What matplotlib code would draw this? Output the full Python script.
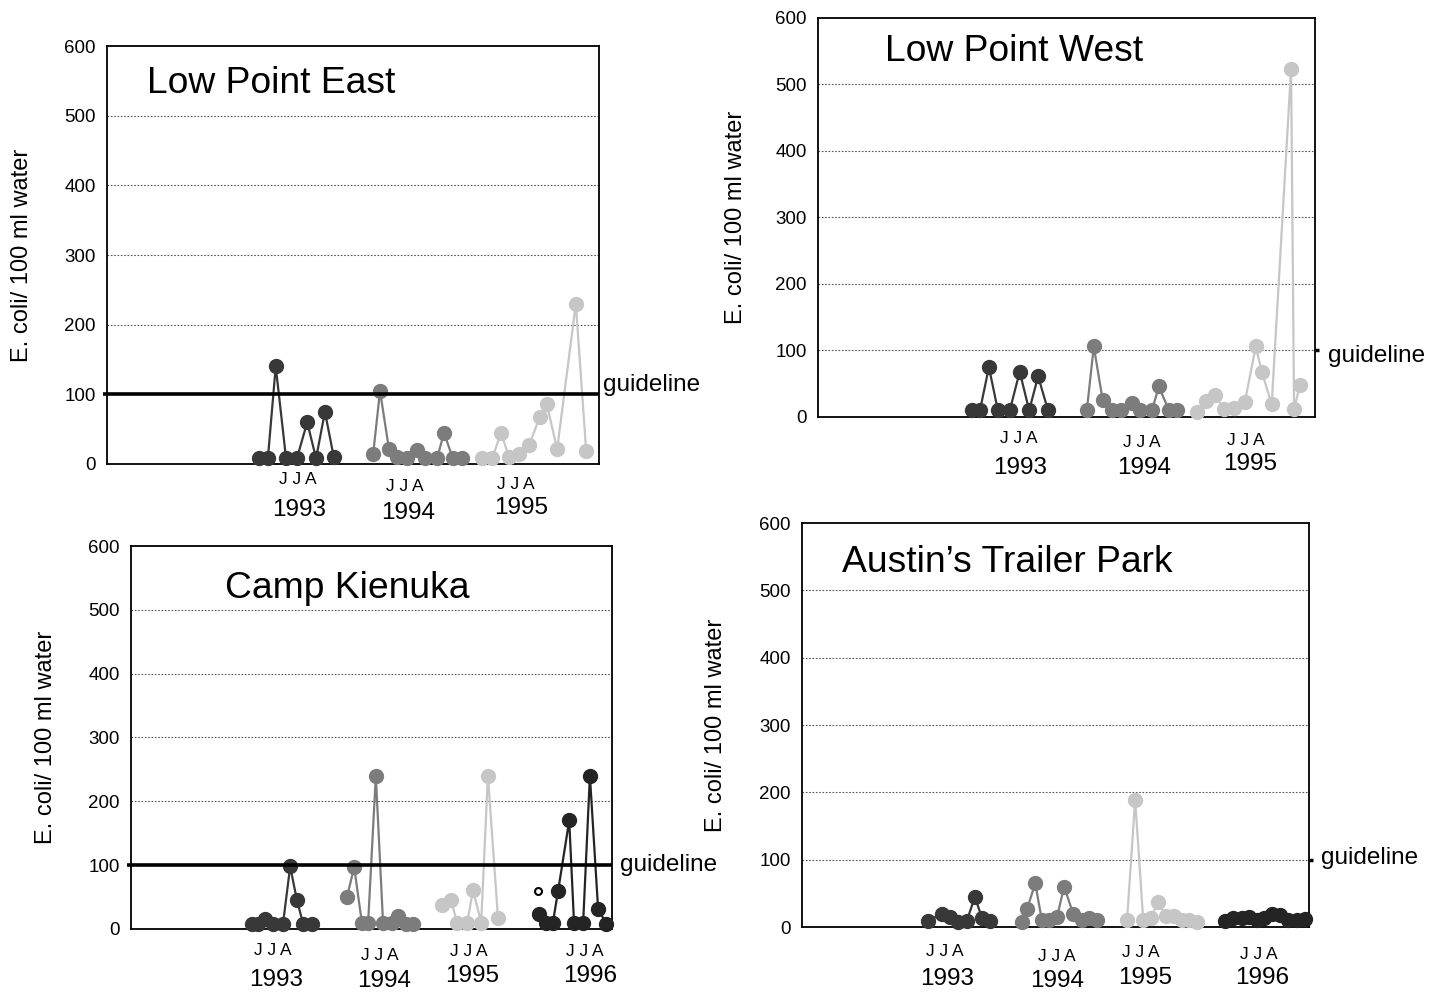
import matplotlib.pyplot as plt
from matplotlib.transforms import blended_transform_factory

plt.rcParams['font.family'] = ['Liberation Sans', 'DejaVu Sans']

# sampling positions (relative time across each panel, 0-100) and E. coli counts
lpe_x93 = [30.9, 32.7, 34.3, 36.4, 38.6, 40.7, 42.5, 44.3, 46.1]
lpe_y93 = [8, 8, 140, 8, 8, 60, 8, 75, 10]
lpe_x94 = [54.1, 55.5, 57.3, 58.9, 61.0, 63.0, 64.6, 67.1, 68.5, 70.3, 72.2]
lpe_y94 = [14, 105, 22, 10, 8, 20, 8, 8, 45, 8, 8]
lpe_x95 = [76.2, 78.3, 80.1, 81.7, 83.7, 85.8, 88.0, 89.4, 91.5, 95.3, 97.4]
lpe_y95 = [8, 8, 45, 10, 15, 27, 68, 86, 21, 230, 19]

lpw_x93 = [31.0, 32.6, 34.4, 36.2, 38.6, 40.6, 42.5, 44.3, 46.3]
lpw_y93 = [10, 10, 75, 10, 10, 68, 10, 61, 10]
lpw_x94 = [54.1, 55.5, 57.3, 59.2, 61.0, 63.2, 64.8, 67.2, 68.6, 70.6, 72.2]
lpw_y94 = [10, 106, 25, 10, 10, 21, 10, 10, 46, 10, 10]
lpw_x95 = [76.3, 78.1, 79.9, 81.7, 83.7, 85.9, 88.1, 89.3, 91.3, 95.2, 95.8, 97.0]
lpw_y95 = [8, 24, 33, 12, 13, 23, 106, 68, 19, 524, 12, 48]

ck_x93 = [25.2, 26.4, 27.9, 29.5, 31.6, 33.1, 34.5, 35.8, 37.6]
ck_y93 = [8, 8, 16, 8, 8, 98, 45, 8, 8]
ck_x94 = [44.9, 46.4, 48.0, 49.3, 50.9, 52.4, 54.3, 55.5, 57.2, 58.6]
ck_y94 = [50, 97, 10, 10, 240, 10, 10, 20, 8, 8]
ck_x95 = [64.7, 66.5, 67.8, 69.9, 71.1, 72.8, 74.2, 76.3]
ck_y95 = [37, 46, 10, 10, 61, 10, 240, 17]
ck_x96 = [84.8, 86.3, 87.7, 88.8, 91.1, 92.1, 94.0, 95.4, 97.1, 98.8]
ck_y96 = [24, 10, 10, 60, 170, 10, 10, 240, 32, 8]
ck_open_x = [84.6]
ck_open_y = [60]

atp_x93 = [24.9, 27.6, 29.2, 30.8, 32.5, 34.1, 35.5, 37.1]
atp_y93 = [9, 20, 15, 8, 9, 45, 13, 9]
atp_x94 = [43.4, 44.4, 46.0, 47.3, 48.7, 50.3, 51.7, 53.5, 55.2, 56.6, 58.2]
atp_y94 = [8, 27, 65, 10, 10, 15, 60, 19, 10, 13, 10]
atp_x95 = [64.1, 65.7, 67.3, 68.8, 70.2, 71.8, 73.4, 75.0, 76.3, 77.9]
atp_y95 = [10, 189, 10, 13, 37, 17, 16, 10, 11, 8]
atp_x96 = [83.4, 85.0, 86.8, 88.2, 89.7, 91.1, 92.7, 94.3, 95.9, 97.6, 99.2]
atp_y96 = [9, 13, 13, 15, 11, 14, 20, 18, 10, 10, 12]

guideline = 100
year_colors = {'1993': '#383838', '1994': '#7c7c7c', '1995': '#c6c6c6', '1996': '#242424'}

fig = plt.figure(figsize=(14.36, 9.94), dpi=100)


def panel(rect, title, title_pos, series, labels, thick, glabel_pos, ylab_x):
    ax = fig.add_axes(rect)
    ax.set_xlim(0, 100)
    ax.set_ylim(0, 600)
    ax.set_yticks(range(0, 601, 100))
    ax.set_xticks([])
    ax.tick_params(axis='y', length=0, pad=8, labelsize=13.5)
    for s in ax.spines.values():
        s.set_linewidth(1.3)
    for g in range(100, 600, 100):
        if thick and g == guideline:
            continue
        ax.axhline(g, color='#555555', lw=0.8, ls=(0, (1.5, 1.5)), zorder=1)
    for year, xs, ys in series:
        c = year_colors[year]
        ax.plot(xs, ys, color=c, lw=1.6, marker='o', ms=10, mfc=c, mec=c,
                zorder=3, clip_on=False)
    trans = blended_transform_factory(ax.transAxes, ax.transData)
    if thick:
        # guideline runs across the plot and pokes out a little past the left spine
        ax.plot([-0.008, 1.0], [guideline, guideline], color='black', lw=2.6,
                transform=trans, clip_on=False, solid_capstyle='butt', zorder=4)
    else:
        ax.plot([1.0, 1.008], [guideline, guideline], color='black', lw=2.5,
                transform=trans, clip_on=False, solid_capstyle='butt')
    ax.text(glabel_pos[0], glabel_pos[1], 'guideline', transform=ax.transAxes,
            fontsize=17.5, va='center', ha='left')
    ax.text(title_pos[0], title_pos[1], title, transform=ax.transAxes,
            fontsize=26.8, va='center', ha='left')
    ax.set_ylabel('E. coli/ 100 ml water', fontsize=17)
    ax.yaxis.set_label_coords(ylab_x, 0.5)
    xt = ax.get_xaxis_transform()
    for year, jx, jy, yx, yy in labels:
        ax.text(jx, jy, 'J J A', transform=xt, fontsize=12.5, ha='center', va='center')
        ax.text(yx, yy, year, transform=xt, fontsize=17.5, ha='center', va='center')
    return ax


panel([0.0745, 0.5332, 0.3426, 0.4205], 'Low Point East', (0.081, 0.911),
      [('1993', lpe_x93, lpe_y93), ('1994', lpe_x94, lpe_y94), ('1995', lpe_x95, lpe_y95)],
      [('1993', 38.8, -0.038, 39.0, -0.110),
       ('1994', 60.6, -0.055, 61.2, -0.117),
       ('1995', 83.1, -0.048, 84.1, -0.105)],
      True, (1.008, 0.189), -0.150)

panel([0.5696, 0.5805, 0.3461, 0.4014], 'Low Point West', (0.135, 0.915),
      [('1993', lpw_x93, lpw_y93), ('1994', lpw_x94, lpw_y94), ('1995', lpw_x95, lpw_y95)],
      [('1993', 40.4, -0.053, 40.6, -0.128),
       ('1994', 65.2, -0.065, 65.6, -0.128),
       ('1995', 86.1, -0.058, 86.9, -0.118)],
      False, (1.026, 0.153), -0.143)

ax3 = panel([0.0912, 0.0654, 0.335, 0.3853], 'Camp Kienuka', (0.195, 0.890),
            [('1993', ck_x93, ck_y93), ('1994', ck_x94, ck_y94),
             ('1995', ck_x95, ck_y95), ('1996', ck_x96, ck_y96)],
            [('1993', 29.5, -0.057, 30.1, -0.133),
             ('1994', 51.8, -0.070, 52.6, -0.136),
             ('1995', 70.3, -0.060, 70.9, -0.123),
             ('1996', 94.4, -0.060, 95.4, -0.123)],
            True, (1.017, 0.167), -0.154)
ax3.plot(ck_open_x, ck_open_y, ls='none', marker='o', ms=5, mfc='white',
         mec='black', mew=1.5, zorder=5)

panel([0.5585, 0.0674, 0.3531, 0.4064], 'Austin\u2019s Trailer Park', (0.079, 0.903),
      [('1993', atp_x93, atp_y93), ('1994', atp_x94, atp_y94),
       ('1995', atp_x95, atp_y95), ('1996', atp_x96, atp_y96)],
      [('1993', 28.2, -0.060, 28.6, -0.129),
       ('1994', 50.3, -0.072, 50.3, -0.134),
       ('1995', 66.9, -0.062, 67.7, -0.127),
       ('1996', 90.1, -0.067, 90.7, -0.127)],
      False, (1.024, 0.171), -0.148)

fig.savefig('out.png', dpi=100)
